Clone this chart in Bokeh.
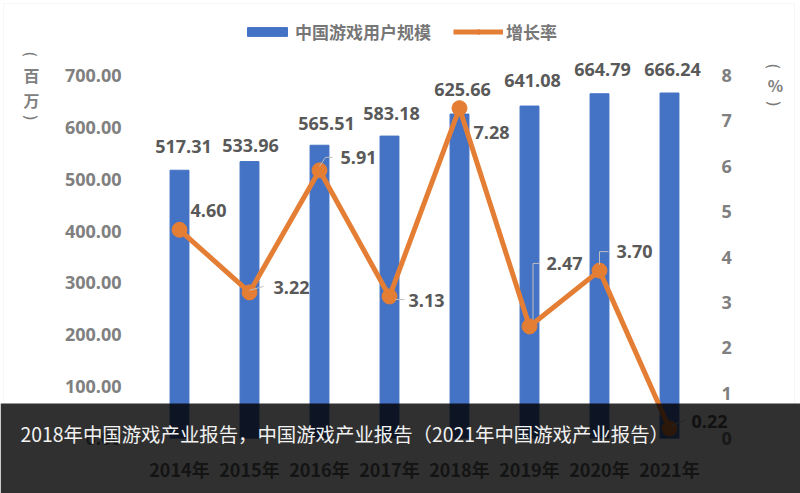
import math
from bokeh.plotting import figure
from bokeh.layouts import column
from bokeh.models import (ColumnDataSource, Range1d, LinearAxis, LabelSet, Label,
                          BoxAnnotation, Legend, LegendItem, FixedTicker, PrintfTickFormatter)
from bokeh.core.properties import value
from bokeh.embed import file_html
from bokeh.resources import INLINE

# ---------------- data ----------------
years = ["2014年", "2015年", "2016年", "2017年", "2018年", "2019年", "2020年", "2021年"]
users = [517.31, 533.96, 565.51, 583.18, 625.66, 641.08, 664.79, 666.24]
growth = [4.60, 3.22, 5.91, 3.13, 7.28, 2.47, 3.70, 0.22]
left_ticks = [0, 100, 200, 300, 400, 500, 600, 700]
right_ticks = [0, 1, 2, 3, 4, 5, 6, 7, 8]
series_names = ["中国游戏用户规模", "增长率"]
left_unit = ["百", "万"]
right_unit = ["%"]
caption = "2018年中国游戏产业报告，中国游戏产业报告（2021年中国游戏产业报告）"

# ---------------- styling / label placement (px) ----------------
BLUE = "#4472C4"
ORANGE = "#E47E35"
NUM_FONT = "Open Sans"
CJK_FONT = "Noto Sans CJK SC"
W, H = 800, 493
FRAME_L, FRAME_R, FRAME_B = 144, 728, 438
PX_PER_CAT = 70.0
PX_PER_USR = 363.0 / 700.0
PX_PER_PCT = 363.0 / 8.0

bar_lbl_dx = [4, 1, 7, 2, 3, 3, 3, 3]
bar_lbl_dy = [24, 16, 22, 23, 25, 26, 24, 24]
ln_lbl_dx = [11, 24, 21, 19, 14, 17, 17, 22]
ln_lbl_dy = [19, 5, 13, -4, -24, 63, 19, 7]
leaders = [None,
           [(0, 2), (14, 6)],
           [(0, 4), (6, 13), (13, 13)],
           [(6, -3), (15, -3)],
           None,
           [(3.5, 7), (3.5, 63), (10, 63)],
           [(0, 6), (0, 19), (9, 19)],
           [(2, 3), (15, 8)]]

idx = list(range(len(years)))
src = ColumnDataSource(dict(
    x=idx, users=users, growth=growth,
    users_txt=[f"{v:.2f}" for v in users],
    growth_txt=[f"{v:.2f}" for v in growth],
    bdx=bar_lbl_dx, bdy=bar_lbl_dy, ldx=ln_lbl_dx, ldy=ln_lbl_dy,
))

x_end = -0.5 + (FRAME_R - FRAME_L) / PX_PER_CAT
y_end = FRAME_B / PX_PER_USR
p_end = FRAME_B / PX_PER_PCT

p = figure(width=W, height=H, x_range=Range1d(-0.5, x_end), y_range=Range1d(0, y_end),
           output_backend="svg", toolbar_location=None,
           min_border_left=FRAME_L, min_border_right=W - FRAME_R, min_border_top=0,
           min_border_bottom=H - FRAME_B)
p.outline_line_color = None
p.background_fill_color = "white"
p.border_fill_color = "white"
p.xgrid.grid_line_color = None
p.ygrid.grid_line_color = None
p.extra_y_ranges = {"pct": Range1d(0, p_end)}


def style_axis(ax, standoff, font, size, color):
    ax.axis_line_color = None
    ax.major_tick_line_color = None
    ax.minor_tick_line_color = None
    ax.major_tick_out = 0
    ax.major_tick_in = 0
    ax.minor_tick_out = 0
    ax.minor_tick_in = 0
    ax.major_label_standoff = standoff
    ax.major_label_text_font = font
    ax.major_label_text_font_style = "bold"
    ax.major_label_text_font_size = size
    ax.major_label_text_color = color


ya = p.yaxis[0]
ya.ticker = FixedTicker(ticks=left_ticks)
ya.formatter = PrintfTickFormatter(format="%.2f")
style_axis(ya, 23, NUM_FONT, "18px", "#808080")

ra = LinearAxis(y_range_name="pct", ticker=FixedTicker(ticks=right_ticks))
style_axis(ra, -7, NUM_FONT, "18px", "#808080")
p.add_layout(ra, "right")

xa = p.xaxis[0]
xa.ticker = FixedTicker(ticks=idx)
xa.major_label_overrides = {i: y for i, y in zip(idx, years)}
style_axis(xa, 17, CJK_FONT, "18px", "#6a6a6a")

bars = p.vbar(x="x", top="users", width=0.27, source=src, fill_color=BLUE, line_color=BLUE)
ln = p.line(x="x", y="growth", y_range_name="pct", source=src, line_color=ORANGE, line_width=5)
mk = p.scatter(x="x", y="growth", y_range_name="pct", source=src, size=15,
               fill_color=ORANGE, line_color=ORANGE)

lx, ly = [], []
for i, pts in enumerate(leaders):
    if not pts:
        continue
    lx.append([i + dx / PX_PER_CAT for dx, dy in pts])
    ly.append([growth[i] + dy / PX_PER_PCT for dx, dy in pts])
p.multi_line(xs=lx, ys=ly, y_range_name="pct", line_color="#bfbfbf", line_width=1)

p.add_layout(LabelSet(x="x", y="users", text="users_txt", source=src, x_offset="bdx", y_offset="bdy",
                      text_align="center", text_baseline="middle", text_font=value(NUM_FONT),
                      text_font_style="bold", text_font_size="18px", text_color="#595959"))
p.add_layout(LabelSet(x="x", y="growth", y_range_name="pct", text="growth_txt", source=src,
                      x_offset="ldx", y_offset="ldy", text_align="left", text_baseline="middle",
                      text_font=value(NUM_FONT), text_font_style="bold", text_font_size="18px",
                      text_color="#595959"))

legend = Legend(items=[LegendItem(label=series_names[0], renderers=[bars]),
                       LegendItem(label=series_names[1], renderers=[ln, mk])],
                orientation="horizontal", location=(98, 394),
                glyph_width=50, glyph_height=11, label_standoff=3, spacing=22,
                padding=0, margin=0, border_line_color=None, background_fill_alpha=0,
                label_text_font=CJK_FONT, label_text_font_style="bold",
                label_text_font_size="17px", label_text_color="#777777")
p.add_layout(legend, "center")

# ---------------- transparent overlay (pixel coordinates) ----------------
ov = figure(width=W, height=H, x_range=Range1d(0, W), y_range=Range1d(H, 0),
            x_axis_type=None, y_axis_type=None, output_backend="svg", toolbar_location=None,
            min_border=0, margin=(-H, 0, 0, 0), styles={"z-index": "5", "position": "relative"})
ov.outline_line_color = None
ov.background_fill_alpha = 0
ov.border_fill_alpha = 0
for fig in (p, ov):
    if hasattr(fig, "frame_align"):
        fig.frame_align = False


def paren(x, y, top):
    # a round bracket turned on its side: arch over / under the vertical unit text
    ov.add_layout(Label(x=x, y=y, text="(", angle=(-math.pi / 2 if top else math.pi / 2),
                        text_align="center", text_baseline="middle", text_font="DejaVu Sans",
                        text_font_size="15px", text_color="#7a7a7a"))


def unit_char(ch, x, y):
    ov.add_layout(Label(x=x, y=y, text=ch, text_align="center", text_baseline="middle",
                        text_font=CJK_FONT, text_font_style="bold", text_font_size="16px",
                        text_color="#808080"))


paren(29, 54, True)
for ch, yy in zip(left_unit, [74, 99]):
    unit_char(ch, 31, yy)
paren(29, 117, False)

paren(772, 66, True)
for ch, yy in zip(right_unit, [84]):
    unit_char(ch, 775, yy)
paren(772, 103, False)

ov.add_layout(BoxAnnotation(left=3, right=794, top=3, bottom=492, fill_alpha=0,
                            line_color="#e4e4e4", line_width=1))
ov.add_layout(BoxAnnotation(left=0, right=W, top=403, bottom=H, fill_color="#000000",
                            fill_alpha=0.81, line_color=None))
ov.add_layout(Label(x=20, y=433, text=caption, text_align="left", text_baseline="middle",
                    text_font=CJK_FONT, text_font_size="19.4px", text_color="#f2f2f2"))

layout = column(p, ov, spacing=0)
open("out.html", "w").write(file_html(layout, INLINE))
